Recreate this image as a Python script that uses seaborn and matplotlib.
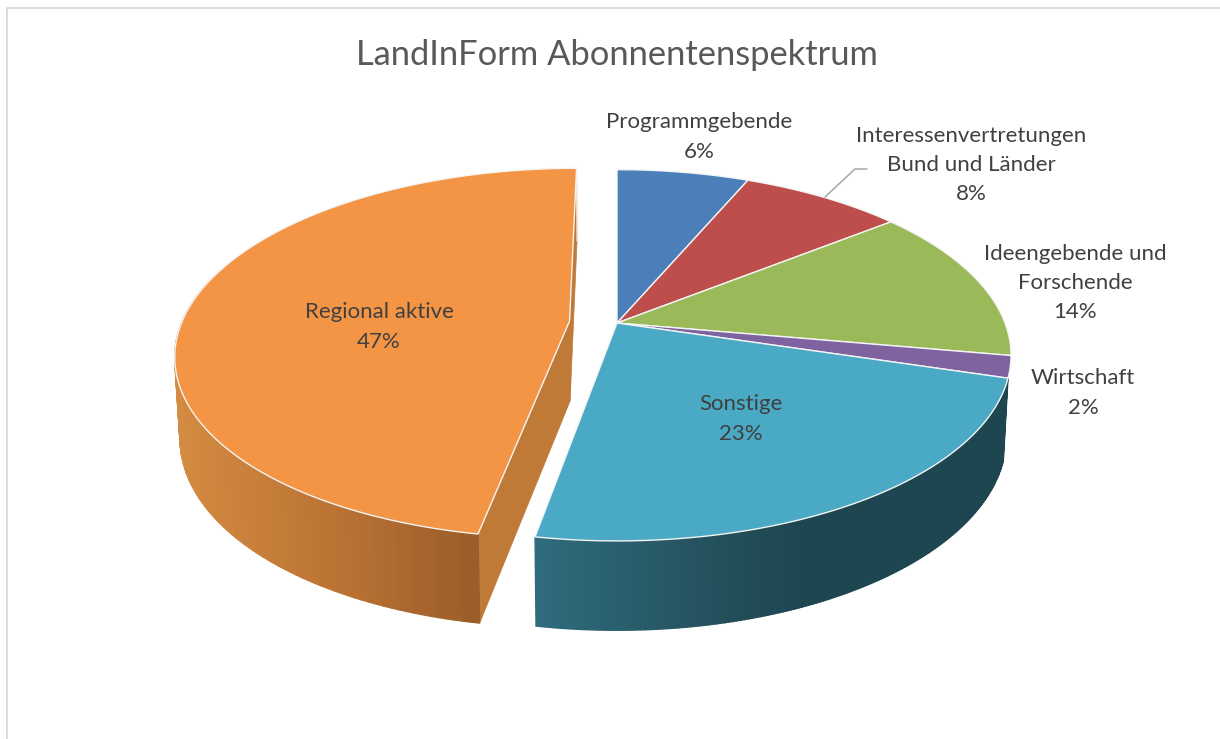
import numpy as np
import matplotlib
matplotlib.use("Agg")
import matplotlib.pyplot as plt
from matplotlib.colors import to_rgb
from matplotlib.path import Path
import seaborn as sns

title = "LandInForm Abonnentenspektrum"
categories = ["Programmgebende", "Interessenvertretungen\nBund und Länder",
              "Ideengebende und\nForschende", "Wirtschaft", "Sonstige", "Regional aktive"]
values = [6.4, 7.9, 13.5, 1.9, 23.1, 47.2]
explode = [0, 0, 0, 0, 0, 0.123]
slice_colors = ["#4C7EBA", "#BD4E4B", "#9ABA59", "#7F63A1", "#4AA9C4", "#F39545"]
label_pos = [(699, 137), (971, 165), (1075, 283), (1083, 393), (741, 419), (379, 327)]

# pie camera, in figure pixels
CX, CY, A, B, K = 617.0, 323.0, 388.0, 180.0, 0.174
LOW_SCALE, DROP, K_DROP = 0.988, 80.0, 0.13


def project(x, y, low=False):
    """Flat pie coordinates (x right, y towards the back) to the tilted view."""
    x, y = np.asarray(x, float), np.asarray(y, float)
    w = 1 + K * y
    sx, sy = A * x / w, B * y / w
    if low:
        return CX + LOW_SCALE * sx, CY - LOW_SCALE * sy + DROP / (1 + K_DROP * y)
    return CX + sx, CY - sy


sns.set_theme(style="white")
plt.rcParams["font.family"] = ["Lato", "DejaVu Sans"]
palette = sns.color_palette(slice_colors)

fig = plt.figure(figsize=(12.2, 7.39), dpi=100, facecolor="white")
ax = fig.add_axes([0, 0, 1, 1])
wedges, _ = ax.pie(values, explode=explode, startangle=90, counterclock=False,
                   colors=palette, normalize=True)
ax.set_aspect("auto")
ax.set_xlim(0, 1220)
ax.set_ylim(739, 0)
ax.axis("off")

ax.plot([7, 7, 1220], [739, 8, 8], color="#D9D9D9", lw=1.3, zorder=1)


def rim(w, n=160):
    t = np.radians(np.linspace(w.theta1, w.theta2, n))
    return w.center[0] + np.cos(t), w.center[1] + np.sin(t)


def wall(w, stops, zorder):
    xs, ys = rim(w)
    xt, yt = project(xs, ys)
    xl, yl = project(xs, ys, low=True)
    sx = [s[0] for s in stops]
    rgb = np.array([to_rgb(s[1]) for s in stops])
    for i in range(len(xs) - 1):
        if ys[i] > 0.25 and ys[i + 1] > 0.25:
            continue
        xm = 0.5 * (xt[i] + xt[i + 1])
        c = [np.interp(xm, sx, rgb[:, j]) for j in range(3)]
        ax.fill([xt[i], xt[i + 1], xl[i + 1], xl[i]], [yt[i], yt[i + 1], yl[i + 1], yl[i]],
                color=c, lw=1.0, zorder=zorder)


def inner_face(w, theta, color, zorder):
    t = np.radians(theta)
    x0, y0 = w.center
    x1, y1 = x0 + np.cos(t), y0 + np.sin(t)
    tx, ty = project([x0, x1], [y0, y1])
    lx, ly = project([x0, x1], [y0, y1], low=True)
    ax.fill([tx[0], tx[1], lx[1], lx[0]], [ty[0], ty[1], ly[1], ly[0]],
            color=color, lw=0.5, zorder=zorder)


orange, teal = wedges[5], wedges[4]
inner_face(orange, orange.theta2 % 360, "#C07A38", 2)
inner_face(orange, orange.theta1, "#C07A38", 2)
wall(orange, [(175, "#D48B42"), (330, "#BC7434"), (480, "#9A5C29")], 3)
wall(teal, [(535, "#2F6C7E"), (700, "#25535F"), (800, "#1D4650"), (1010, "#1D4650")], 3)

# pale arris between the orange wall and its inner face
ex, ey = rim(orange, 2)
tx, ty = project(ex[:1], ey[:1])
lx, ly = project(ex[:1], ey[:1], low=True)
ax.plot([tx[0], lx[0]], [ty[0], ly[0]], color="#F2E6DA", lw=1.0, zorder=4)

for w, color in zip(wedges, palette):
    xs, ys = rim(w)
    px = np.r_[w.center[0], xs, w.center[0]]
    py = np.r_[w.center[1], ys, w.center[1]]
    X, Y = project(px, py)
    w._path = Path(np.column_stack([X, Y]), closed=False)
    w.set(facecolor=color, edgecolor="#F4F4F4", linewidth=1.0, zorder=5, joinstyle="round")

ax.plot([825, 855, 867], [197, 169, 169], color="#A6A6A6", lw=1.1, zorder=6)

for cat, val, (lx_, ly_) in zip(categories, values, label_pos):
    ax.text(lx_, ly_, f"{cat}\n{val:.0f}%", ha="center", va="center", fontsize=16,
            color="#404040", linespacing=1.58, zorder=7)
ax.text(617, 55, title, ha="center", va="center", fontsize=24.85, color="#595959", zorder=7)

fig.savefig("out.png", dpi=100, facecolor="white")
